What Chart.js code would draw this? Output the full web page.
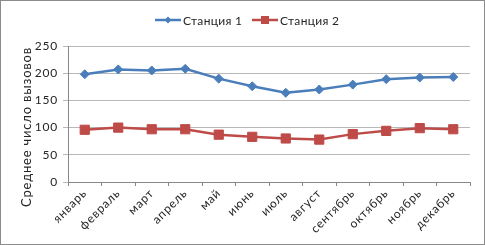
<!DOCTYPE html>
<html>
<head>
<meta charset="utf-8">
<script src="https://cdn.jsdelivr.net/npm/chart.js@4"></script>
<style>
    html, body { margin: 0; padding: 0; background: #fff; }
    #wrap {
        position: absolute; left: 0; top: 0;
        width: 483px; height: 243px;
        border: 1px solid #8c8c8c;
        background: #fff;
    }
</style>
</head>
<body>
<div id="wrap"><canvas id="lineChart" width="483" height="243"></canvas></div>
<script>
const months = ['январь', 'февраль', 'март', 'апрель', 'май', 'июнь', 'июль', 'август', 'сентябрь', 'октябрь', 'ноябрь', 'декабрь'];
const station1 = [198, 207, 205, 208, 190, 176, 164, 170, 179, 189, 192, 193];
const station2 = [96, 100, 97, 97, 87, 83, 80, 78, 88, 94, 99, 97];
const seriesNames = ['Станция 1', 'Станция 2'];
const yTitle = 'Среднее число вызовов';
const yTicks = [0, 50, 100, 150, 200, 250];

const blue = '#4a7ebb';
const red = '#be4b48';
const textColor = '#262626';

// Excel-ish wide text: a bit of letter spacing on the whole canvas
const spacing = {
    id: 'spacing',
    beforeUpdate(chart) { chart.ctx.letterSpacing = '0.8px'; },
    beforeDraw(chart) { chart.ctx.letterSpacing = '0.8px'; }
};

// legend + axis title drawn by hand (Excel puts the title lower than the plot centre)
const extras = {
    id: 'extras',
    afterDraw(chart) {
        const c = chart.ctx;
        const y = 19;
        const items = [
            { x: 154, color: blue, shape: 'diamond', text: seriesNames[0] },
            { x: 251, color: red, shape: 'square', text: seriesNames[1] }
        ];
        c.save();
        c.letterSpacing = '0.3px';
        c.font = '12px Lato';
        c.textBaseline = 'middle';
        items.forEach(function (it) {
            c.strokeStyle = it.color;
            c.fillStyle = it.color;
            c.lineWidth = 2.5;
            c.beginPath(); c.moveTo(it.x, y); c.lineTo(it.x + 26, y); c.stroke();
            const cx = it.x + 13;
            if (it.shape === 'diamond') {
                c.beginPath();
                c.moveTo(cx, y - 3.5); c.lineTo(cx + 3.5, y); c.lineTo(cx, y + 3.5); c.lineTo(cx - 3.5, y);
                c.closePath(); c.fill();
            } else {
                c.fillRect(cx - 4, y - 4, 8, 8);
            }
            c.fillStyle = textColor;
            c.fillText(it.text, it.x + 28, y + 1);
        });
        c.restore();

        c.save();
        c.letterSpacing = '0.8px';
        c.font = '13px Lato';
        c.fillStyle = textColor;
        c.textAlign = 'center';
        c.textBaseline = 'middle';
        c.translate(26, 126);
        c.rotate(-Math.PI / 2);
        c.fillText(yTitle, 0, 0);
        c.restore();
    }
};

const ctx = document.getElementById('lineChart').getContext('2d');
new Chart(ctx, {
    type: 'line',
    data: {
        labels: months,
        datasets: [{
            label: seriesNames[0],
            data: station1,
            borderColor: blue,
            backgroundColor: blue,
            borderWidth: 2.5,
            pointStyle: 'rectRot',
            pointRadius: 4.5,
            pointBorderWidth: 1,
            tension: 0
        }, {
            label: seriesNames[1],
            data: station2,
            borderColor: red,
            backgroundColor: red,
            borderWidth: 2.5,
            pointStyle: 'rect',
            pointRadius: 6.5,
            pointBorderWidth: 1,
            tension: 0
        }]
    },
    options: {
        responsive: false,
        animation: false,
        layout: { padding: { left: 0, right: 14, top: 45, bottom: 0 } },
        plugins: {
            legend: { display: false },
            tooltip: { enabled: false }
        },
        scales: {
            x: {
                offset: true,
                afterFit: function (scale) { scale.height = 62; },
                grid: {
                    display: true,
                    drawOnChartArea: false,
                    offset: true,
                    color: '#888',
                    tickLength: 4
                },
                border: { color: '#888' },
                ticks: {
                    color: textColor,
                    font: { family: 'Lato', size: 12 },
                    minRotation: 45,
                    maxRotation: 45,
                    padding: 0
                }
            },
            y: {
                min: 0,
                max: 250,
                afterBuildTicks: function (scale) {
                    scale.ticks = yTicks.map(v => ({ value: v }));
                },
                afterFit: function (scale) { scale.width = 67; },
                grid: {
                    color: '#b8b8b8',
                    tickLength: 5
                },
                border: { color: '#888' },
                ticks: {
                    color: textColor,
                    font: { family: 'Lato', size: 12 },
                    padding: 5
                }
            }
        }
    },
    plugins: [spacing, extras]
});
</script>
</body>
</html>
